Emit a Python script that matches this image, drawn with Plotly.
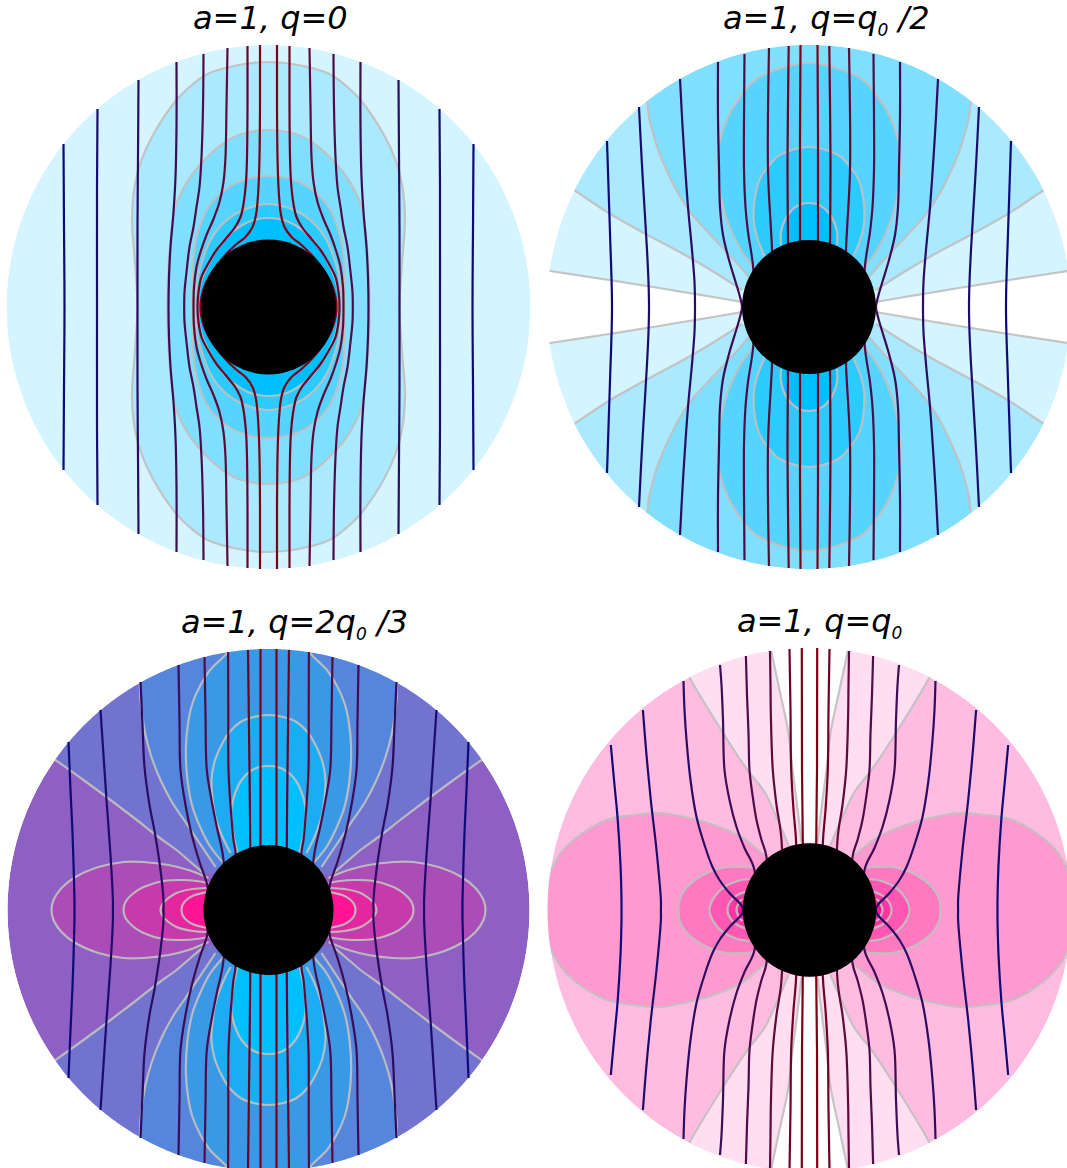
import numpy as np
import plotly.graph_objects as go

# ---------- panel 1: a=1, q=0 ----------
P1_C1 = [(0,245),(30,242),(61,233),(79,220),(92,207),(115,173),(127,147),(134,120),(136.5,87),(133.5,44),(131,0)]
P1_C2 = [(0,177),(30,172),(46,163),(61,150),(76,133),(87,115),(93,100),(97,75),(100,40),(101,0)]
P1_C3 = [(0,131),(25,127),(45,116),(60,100),(69,80),(74,60),(76,30),(76,0)]
P1_C4 = [(0,103),(20,99),(35,92),(48,81),(58,67),(65,50),(70,33),(72.5,15),(73,0)]
P1_C5 = [(0,89),(15,87),(28,81),(41,71),(52,57),(61,41),(67,27),(70,12),(70.5,0)]
P1_A = [(8.5,262),(8.5,200),(9,150),(10,120),(11,105),(12.5,92),(16,80),(23,70),(33,62),(45,50),(55,37),(63,23),(67,10),(68,0)]
P1_B = [(21,261),(21,200),(21.5,150),(22.5,125),(25,103),(28,90),(34,79),(43,68),(52,57),(60,44),(67,30),(70,15),(71,0)]
P1_C = [(41,259),(42,200),(43,150),(45,125),(49,105),(55,88),(62,72),(68,55),(72,40),(74.5,20),(75,0)]
P1_D = [(65,253),(65.5,200),(67,150),(69,120),(72,100),(75,80),(79,60),(82,35),(84,15),(84.3,0)]
P1_E = [(92,245),(92,180),(93,130),(95,95),(98,60),(99.5,30),(100,0)]
P1_F = [(130,227),(130.5,150),(131,80),(131,0)]
P1_G = [(171,198),(171.5,120),(171.5,0)]
P1_H = [(205,163),(204.5,80),(204,0)]

# ---------- panel 2: a=1, q=q0/2 ----------
P2_L0 = [(67,5),(90,9),(120,14),(150,19),(200,27),(259,36)]
P2_L1 = [(67,17),(95,35),(124,52),(165,74),(202,95),(235,117)]
P2_L2 = [(60,30),(73,45),(87,60),(103,77),(118,94),(131,114),(141,134),(150,155),(156,174),(160,190),(162,206)]
P2_L3 = [(0,244),(27,239),(54,227),(71,207),(81,190),(89,167),(91,150),(90,123),(83,90),(68,57),(56,40)]
P2_L4 = [(0,160),(20,156),(32,150),(41,140),(47,132),(51,123),(54,110),(55.5,93),(54.5,80),(51,67),(44,50)]
P2_L5 = [(0,104),(10,102),(19,95),(25,85),(28,75),(28,62)]
P2_A = [(8.5,262),(9,170),(9,65)]
P2_B = [(20.3,261),(21.5,137),(21,63)]
P2_C = [(40,259),(41,137),(38,77),(37,57)]
P2_D = [(64.5,253),(65,190),(65,137),(63.5,100),(61,75),(55.7,38)]
P2_E = [(91,245),(91,190),(90,140),(89,100),(86,72),(80,47),(74,27),(69,10),(67,0)]
P2_F = [(129,228),(127,190),(125,157),(121,100),(117,57),(114.5,25),(114,0)]
P2_G = [(170,200),(168,160),(166,124),(162,57),(160.5,25),(160,0)]
P2_H = [(202,166),(199,74),(197,0)]

# ---------- panel 3: a=1, q=2q0/3 ----------
P3_L1 = [(64,36),(78,48),(92,60),(110,73),(133,91),(158,110),(185,130),(213,150)]
P3_L2 = [(53,43),(61,55),(71,70),(83,88),(96,107),(108,130),(117,153),(123,175),(126,193),(128,210),(129,227)]
P3_L3 = [(45,47),(58,63),(67,80),(76,103),(81,130),(82.6,163),(80,190),(76,207),(68,225),(58.5,240),(41,258)]
P3_L4 = [(0,195),(15,193),(28,188),(39,178),(47,165),(54,148),(57,130),(56,112),(53,93),(46,73),(38,57)]
P3_L5 = [(0,144),(9,143),(18,139),(27,130),(33,118),(37,103),(37,90),(35,75),(31,57)]
P3_LOBE1 = [(217,0),(215,10),(207,22),(193,33),(170,43),(145,48),(125,48),(100,45),(80,40),(60,32)]
P3_LOBE2 = [(145,0),(143,8),(136,16),(125,23),(105,29),(85,30),(72,29),(60,27)]
P3_LOBE3 = [(108,0),(106,6),(100,12),(92,17),(76,21),(62,22)]
P3_LOBE4 = [(87,0),(85.5,6),(81,11),(75,14.5),(66,17),(60,18)]
P3_A = [(8,261),(8,160),(8,65)]
P3_B = [(20.5,260),(19,140),(18.3,65)]
P3_C = [(40.4,258),(40.2,200),(40,140),(38,105),(35,70),(33,58)]
P3_D = [(64,253),(63,195),(61.7,140),(57,110),(51.7,83),(45,50)]
P3_E = [(90,245),(89,190),(88,140),(83,105),(76.7,75),(69,48),(61.7,27),(60,15)]
P3_F = [(128,228),(126,185),(124,143),(119,105),(113.6,77),(108,40),(105,10),(105,0)]
P3_G = [(168,200),(165,155),(162,110),(158,55),(155.6,10),(155.6,0)]
P3_H = [(200,168),(198,120),(196,77),(194,10),(194,0)]

# ---------- panel 4: a=1, q=q0 ----------
P4_L0 = [(8,68),(13,110),(17,140),(21,177),(30,220),(38,258)]
P4_L1 = [(21,65),(33,93),(45,118),(62,140),(82,170),(120,232.5)]
P4_LOBE1 = [(266,0),(262,30),(250,55),(236,70),(203,90),(175,95),(151,97),(125,93),(102,87),(83,80),(68,73),(55,63),(43,53)]
P4_LOBE2 = [(131,0),(130,10),(125,20),(113,31),(98,39),(83,43),(65,43),(55,42)]
P4_LOBE3 = [(100,0),(98,8),(92,17),(85,23),(72,29),(60,31)]
P4_LOBE4 = [(82,0),(81,5),(77,11),(72,15),(65,18),(62,19)]
P4_LOBE5 = [(73,0),(72,4),(70,8),(67,11)]
P4_A = [(7.7,262),(7.5,140),(6.7,66)]
P4_B = [(20,261),(19,200),(18.3,140),(16,100),(13.3,66)]
P4_C = [(39.5,259),(39,225),(38.6,193),(36.7,140),(33,105),(28,70)]
P4_D = [(63.6,254),(62.5,215),(61,177),(60,140),(57,115),(53,90),(48,70),(43,53)]
P4_E = [(89.5,245),(88,225),(86.5,190),(85,140),(80,110),(73,83),(65,62),(55,40)]
P4_F = [(126,229),(125,200),(123,170),(119,130),(113,93),(104,62),(97,43),(90,30),(80,17),(67,3)]
P4_G = [(166.6,200),(163,155),(158.7,110),(153,60),(148.6,10),(148.6,0)]
P4_H = [(198.7,165),(195,125),(192,93),(189,45),(188,10),(188,0)]

SUB = "<sub><span style='font-size:17px'>0</span></sub>"
TITLES = ["a=1, q=0", "a=1, q=q" + SUB + " /2", "a=1, q=2q" + SUB + " /3", "a=1, q=q" + SUB]

# colours
BLUES = ["#FFFFFF", "#D4F4FF", "#AAE9FF", "#80DFFF", "#55D4FF", "#2BCAFF", "#00BFFF"]
MIX = ["#00BFFF", "#1CACF3", "#3999E7", "#5586DB", "#7173CF", "#8E60C3", "#AA4DB7", "#C63AAB", "#E3279F", "#FF1493"]
PINKS = ["#FFFFFF", "#FFDEF1", "#FFBCE0", "#FF9AD1", "#FF79C1", "#FF57B2", "#FF36A2", "#FF1493"]
LINE_COLORS = ["#7E0014", "#700024", "#5F0A38", "#4E0C4A", "#3C0C55", "#2A0C62", "#1B0C6C", "#0E0A78"]
CONTOUR = "rgba(192,192,192,0.92)"

W, H = 1067, 1168


def arc(a0, a1, r, n=40):
    t = np.linspace(a0, a1, n)
    return list(zip(r * np.cos(t), r * np.sin(t)))


def closed_loop(q):
    return (q + [(x, -y) for x, y in q[-2::-1]] + [(-x, -y) for x, y in q[1:]]
            + [(-x, y) for x, y in q[-2::-1]])


def lobe(q, sy):
    """q runs from the axis point (0, top) to the hole."""
    return [(-x, sy * y) for x, y in q[:0:-1]] + [(x, sy * y) for x, y in q]


def side(q, sx):
    """q runs from the equator point (w, 0) to the hole."""
    return [(sx * x, -y) for x, y in q[:0:-1]] + [(sx * x, y) for x, y in q]


def to_rim(q, sy, r):
    """q runs from the hole to the rim; the region opens over the pole."""
    a = np.arctan2(q[-1][1], q[-1][0])
    return ([(x, sy * y) for x, y in q] + [(x, sy * y) for x, y in arc(a, np.pi - a, r + 3)]
            + [(-x, sy * y) for x, y in q[::-1]])


def wedge(q, sx, r):
    """q runs from the hole to the rim; the region opens over the equator."""
    a = np.arctan2(q[-1][1], q[-1][0])
    return ([(sx * x, y) for x, y in q] + [(sx * x, y) for x, y in arc(a, -a, r + 3)]
            + [(sx * x, -y) for x, y in q[::-1]])


PANELS = [
    dict(box=(0, 537, 40, 575), c=(268.5, 307), R=262, hole=67.5, base=BLUES[1],
         regions=[(closed_loop(P1_C1), BLUES[2]), (closed_loop(P1_C2), BLUES[3]), (closed_loop(P1_C3), BLUES[4]),
                  (closed_loop(P1_C4), BLUES[5]), (closed_loop(P1_C5), BLUES[6])],
         lines=[P1_H, P1_G, P1_F, P1_E, P1_D, P1_C, P1_B, P1_A]),
    dict(box=(540, 1067, 40, 575), c=(809, 307), R=262, hole=67, base=BLUES[1],
         regions=[(wedge(P2_L0, 1, 262), BLUES[0]), (wedge(P2_L0, -1, 262), BLUES[0]),
                  (to_rim(P2_L1, 1, 262), BLUES[2]), (to_rim(P2_L1, -1, 262), BLUES[2]),
                  (to_rim(P2_L2, 1, 262), BLUES[3]), (to_rim(P2_L2, -1, 262), BLUES[3]),
                  (lobe(P2_L3, 1), BLUES[4]), (lobe(P2_L3, -1), BLUES[4]),
                  (lobe(P2_L4, 1), BLUES[5]), (lobe(P2_L4, -1), BLUES[5]),
                  (lobe(P2_L5, 1), BLUES[6]), (lobe(P2_L5, -1), BLUES[6])],
         lines=[P2_H, P2_G, P2_F, P2_E, P2_D, P2_C, P2_B, P2_A]),
    dict(box=(0, 537, 640, 1168), c=(268.5, 910), R=261, hole=65, base=MIX[5],
         regions=[(to_rim(P3_L1, 1, 261), MIX[4]), (to_rim(P3_L1, -1, 261), MIX[4]),
                  (to_rim(P3_L2, 1, 261), MIX[3]), (to_rim(P3_L2, -1, 261), MIX[3]),
                  (to_rim(P3_L3, 1, 261), MIX[2]), (to_rim(P3_L3, -1, 261), MIX[2]),
                  (lobe(P3_L4, 1), MIX[1]), (lobe(P3_L4, -1), MIX[1]),
                  (lobe(P3_L5, 1), MIX[0]), (lobe(P3_L5, -1), MIX[0]),
                  (side(P3_LOBE1, 1), MIX[6]), (side(P3_LOBE1, -1), MIX[6]),
                  (side(P3_LOBE2, 1), MIX[7]), (side(P3_LOBE2, -1), MIX[7]),
                  (side(P3_LOBE3, 1), MIX[8]), (side(P3_LOBE3, -1), MIX[8]),
                  (side(P3_LOBE4, 1), MIX[9]), (side(P3_LOBE4, -1), MIX[9])],
         lines=[P3_H, P3_G, P3_F, P3_E, P3_D, P3_C, P3_B, P3_A]),
    dict(box=(540, 1067, 640, 1168), c=(809.5, 910), R=262, hole=66.7, base=PINKS[2],
         regions=[(to_rim(P4_L1, 1, 262), PINKS[1]), (to_rim(P4_L1, -1, 262), PINKS[1]),
                  (to_rim(P4_L0, 1, 262), PINKS[0]), (to_rim(P4_L0, -1, 262), PINKS[0]),
                  (side(P4_LOBE1, 1), PINKS[3]), (side(P4_LOBE1, -1), PINKS[3]),
                  (side(P4_LOBE2, 1), PINKS[4]), (side(P4_LOBE2, -1), PINKS[4]),
                  (side(P4_LOBE3, 1), PINKS[5]), (side(P4_LOBE3, -1), PINKS[5]),
                  (side(P4_LOBE4, 1), PINKS[6]), (side(P4_LOBE4, -1), PINKS[6]),
                  (side(P4_LOBE5, 1), PINKS[7]), (side(P4_LOBE5, -1), PINKS[7])],
         lines=[P4_H, P4_G, P4_F, P4_E, P4_D, P4_C, P4_B, P4_A]),
]
TITLE_POS = [(270, 18), (826, 20), (294, 623), (819, 622)]

fig = go.Figure()
shapes, annotations, axes = [], [], {}

for i, p in enumerate(PANELS):
    n = "" if i == 0 else str(i + 1)
    xa, ya = "x" + n, "y" + n
    x0, x1, y0, y1 = p["box"]
    cx, cy = p["c"]
    axes["xaxis" + n] = dict(domain=[x0 / W, x1 / W], range=[x0 - cx, x1 - cx], visible=False,
                             anchor=ya, fixedrange=True)
    axes["yaxis" + n] = dict(domain=[1 - y1 / H, 1 - y0 / H], range=[cy - y1, cy - y0], visible=False,
                             anchor=xa, fixedrange=True)
    R = p["R"]
    shapes.append(dict(type="circle", xref=xa, yref=ya, x0=-R, x1=R, y0=-R, y1=R,
                       fillcolor=p["base"], line_width=0, layer="below"))
    for pts, col in p["regions"]:
        fig.add_trace(go.Scatter(x=[a for a, _ in pts], y=[b for _, b in pts], xaxis=xa, yaxis=ya,
                                 mode="lines", fill="toself", fillcolor=col,
                                 line=dict(color=CONTOUR, width=2.2, shape="spline", smoothing=1.0, simplify=False),
                                 hoverinfo="skip", showlegend=False))
    # white surround trims every region to the rim
    ring = ([(-900, 0), (-900, 900), (900, 900), (900, -900), (-900, -900), (-900, 0)]
            + arc(np.pi, 3 * np.pi, R, 720))
    fig.add_trace(go.Scatter(x=[a for a, _ in ring], y=[b for _, b in ring], xaxis=xa, yaxis=ya,
                             mode="lines", line=dict(width=0, color="white", simplify=False),
                             fill="toself", fillcolor="white", hoverinfo="skip", showlegend=False))
    for q, col in zip(p["lines"], LINE_COLORS[::-1]):
        xs, ys = [], []
        for sx in (1, -1):
            half = q[:-1] if q[-1][1] == 0 else q
            full = q + [(a, -b) for a, b in half[::-1]]
            xs += [sx * a for a, _ in full] + [None]
            ys += [b for _, b in full] + [None]
        fig.add_trace(go.Scatter(x=xs, y=ys, xaxis=xa, yaxis=ya, mode="lines",
                                 line=dict(color=col, width=2.2, shape="spline", smoothing=1.0, simplify=False),
                                 hoverinfo="skip", showlegend=False))
    h = p["hole"]
    shapes.append(dict(type="circle", xref=xa, yref=ya, x0=-h, x1=h, y0=-h, y1=h,
                       fillcolor="black", line_width=0, layer="above"))
    tx, ty = TITLE_POS[i]
    annotations.append(dict(text="<i>" + TITLES[i] + "</i>", xref="paper", yref="paper",
                            x=tx / W, y=1 - ty / H, xanchor="center", yanchor="middle", showarrow=False,
                            font=dict(family="DejaVu Sans", size=32, color="black")))

fig.update_layout(width=W, height=H, margin=dict(l=0, r=0, t=0, b=0), paper_bgcolor="white",
                  plot_bgcolor="rgba(0,0,0,0)", showlegend=False, shapes=shapes, annotations=annotations, **axes)
fig.write_html("out.html", config={"displayModeBar": False},
               post_script="document.body.style.margin='0';document.documentElement.style.overflow='hidden';")
